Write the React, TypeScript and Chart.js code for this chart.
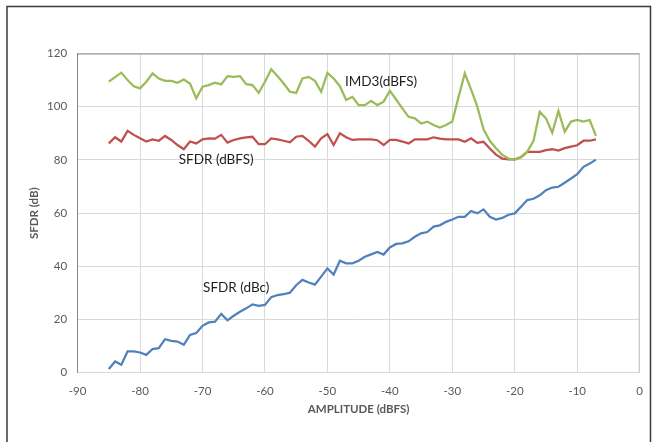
import React, { useEffect, useRef } from "react";
import { Chart, registerables } from "chart.js";

Chart.register(...registerables);

// Amplitude (dBFS) of each measurement
const amplitude = [
  -85, -84, -83, -82, -81, -80, -79, -78, -77, -76,
  -75, -74, -73, -72, -71, -70, -69, -68, -67, -66,
  -65, -64, -63, -62, -61, -60, -59, -58, -57, -56,
  -55, -54, -53, -52, -51, -50, -49, -48, -47, -46,
  -45, -44, -43, -42, -41, -40, -39, -38, -37, -36,
  -35, -34, -33, -32, -31, -30, -29, -28, -27, -26,
  -25, -24, -23, -22, -21, -20, -19, -18, -17, -16,
  -15, -14, -13, -12, -11, -10, -9, -8, -7,
];

const imd3Dbfs = [
  109.4, 111.1, 112.8, 110.0, 107.7, 106.9, 109.4, 112.5, 110.6, 109.7,
  109.7, 109.0, 110.2, 108.7, 103.1, 107.5, 108.1, 109.0, 108.4, 111.5,
  111.2, 111.5, 108.5, 108.1, 105.2, 109.4, 114.1, 111.5, 108.7, 105.6,
  105.2, 110.6, 111.2, 109.7, 105.6, 112.7, 110.6, 107.7, 102.5, 103.7,
  100.6, 100.6, 102.2, 100.6, 101.9, 106.0, 102.7, 99.4, 96.2, 95.6,
  93.7, 94.4, 93.1, 92.2, 93.1, 94.4, 103.7, 112.5, 106.5, 100.0,
  91.5, 87.2, 84.4, 81.9, 80.5, 80.0, 81.2, 83.1, 87.2, 98.1,
  95.6, 90.2, 98.4, 90.6, 94.4, 95.0, 94.4, 95.0, 89.0,
];

const sfdrDbfs = [
  86.2, 88.5, 86.9, 90.9, 89.4, 88.1, 86.9, 87.7, 87.2, 89.0,
  87.5, 85.6, 84.0, 86.9, 86.2, 87.7, 88.1, 88.0, 89.4, 86.5,
  87.5, 88.1, 88.5, 88.7, 85.9, 85.9, 88.1, 87.7, 87.2, 86.6,
  88.7, 89.0, 87.2, 85.0, 88.1, 89.7, 85.6, 90.0, 88.5, 87.5,
  87.7, 87.7, 87.7, 87.4, 85.6, 87.5, 87.5, 86.9, 86.2, 87.7,
  87.7, 87.7, 88.5, 88.0, 87.7, 87.7, 87.7, 86.8, 88.1, 86.4,
  86.8, 84.3, 82.0, 80.5, 80.2, 80.2, 81.0, 83.0, 83.0, 83.0,
  83.7, 84.0, 83.5, 84.4, 85.0, 85.5, 87.2, 87.2, 87.7,
];

const sfdrDbc = [
  1.4, 4.2, 3.0, 8.0, 8.0, 7.6, 6.7, 8.9, 9.2, 12.6,
  12.0, 11.7, 10.5, 14.2, 14.9, 17.6, 18.9, 19.2, 22.1, 19.7,
  21.4, 22.9, 24.2, 25.7, 25.1, 25.5, 28.4, 29.2, 29.5, 30.1,
  32.9, 34.9, 33.9, 33.1, 36.1, 39.2, 36.9, 42.1, 41.1, 41.1,
  42.1, 43.6, 44.5, 45.4, 44.4, 47.1, 48.4, 48.6, 49.4, 51.1,
  52.4, 52.9, 54.9, 55.4, 56.7, 57.6, 58.6, 58.6, 60.8, 59.9,
  61.4, 58.6, 57.6, 58.2, 59.4, 59.9, 62.4, 64.9, 65.4, 66.7,
  68.6, 69.6, 69.9, 71.4, 73.0, 74.6, 77.4, 78.6, 80.1,
];

const xTicks = [-90, -80, -70, -60, -50, -40, -30, -20, -10, 0];
const yTicks = [0, 20, 40, 60, 80, 100, 120];

const seriesNames = ["IMD3(dBFS)", "SFDR (dBFS)", "SFDR (dBc)"];
const seriesColors = ["#9bbb59", "#c0504d", "#4f81bd"];
const seriesValues = [imd3Dbfs, sfdrDbfs, sfdrDbc];
// where each series name is written, in data units (amplitude, dB)
const labelAnchors = [
  { x: -41.4, y: 109.4 },
  { x: -67.8, y: 80.2 },
  { x: -64.6, y: 31.8 },
];

const xTitle = "AMPLITUDE (dBFS)";
const yTitle = "SFDR (dB)";

const FONT = "Lato, 'Open Sans', 'DejaVu Sans', sans-serif";

const framePlugin = {
  id: "framePlugin",
  beforeDraw(chart: any) {
    const { ctx, width, height } = chart;
    ctx.save();
    ctx.fillStyle = "#ffffff";
    ctx.fillRect(0, 0, width, height);
    ctx.restore();
  },
  afterDatasetsDraw(chart: any) {
    const { ctx, chartArea } = chart;
    ctx.save();
    // plot area top and right border
    ctx.lineWidth = 1;
    ctx.strokeStyle = "#8a8a8a";
    ctx.beginPath();
    ctx.moveTo(chartArea.left, chartArea.top + 0.5);
    ctx.lineTo(chartArea.right, chartArea.top + 0.5);
    ctx.stroke();
    ctx.strokeStyle = "#c4c4c4";
    ctx.beginPath();
    ctx.moveTo(chartArea.right - 0.5, chartArea.top);
    ctx.lineTo(chartArea.right - 0.5, chartArea.bottom);
    ctx.stroke();

    // series labels
    const xs = chart.scales.x;
    const ys = chart.scales.y;
    ctx.fillStyle = "#1e1e1e";
    ctx.font = `13.5px ${FONT}`;
    ctx.textAlign = "center";
    ctx.textBaseline = "middle";
    seriesNames.forEach((name, i) => {
      const a = labelAnchors[i];
      ctx.fillText(name, xs.getPixelForValue(a.x), ys.getPixelForValue(a.y));
    });

    // outer frame
    ctx.strokeStyle = "#3a3a3a";
    ctx.lineWidth = 1.5;
    ctx.beginPath();
    ctx.moveTo(7, 460);
    ctx.lineTo(7, 6.5);
    ctx.lineTo(650.5, 6.5);
    ctx.lineTo(650.5, 460);
    ctx.stroke();
    ctx.restore();
  },
};

export default function App() {
  const canvasRef = useRef<HTMLCanvasElement | null>(null);

  useEffect(() => {
    const canvas = canvasRef.current;
    if (!canvas) return;
    const chart = new Chart(canvas, {
      type: "line",
      data: {
        datasets: seriesNames.map((name, i) => ({
          label: name,
          data: amplitude.map((a, j) => ({ x: a, y: seriesValues[i][j] })),
          borderColor: seriesColors[i],
          backgroundColor: seriesColors[i],
          borderWidth: 2.25,
          pointRadius: 0,
          tension: 0,
          fill: false,
        })),
      },
      options: {
        animation: false,
        responsive: false,
        devicePixelRatio: 1,
        layout: { padding: { left: 7.6, top: 53.5, right: 9.6, bottom: 9.3 } },
        plugins: {
          legend: { display: false },
          tooltip: { enabled: false },
        },
        scales: {
          x: {
            type: "linear",
            min: -90,
            max: 0,
            afterBuildTicks: (s: any) => {
              s.ticks = xTicks.map((v) => ({ value: v }));
            },
            afterFit: (s: any) => {
              s.height = 60;
            },
            grid: { color: "#d9d9d9", lineWidth: 1, drawTicks: false },
            border: { color: "#d9d9d9" },
            ticks: {
              color: "#595959",
              font: { family: FONT, size: 11.5 },
              padding: 12,
              maxRotation: 0,
            },
            title: {
              display: true,
              text: xTitle,
              color: "#595959",
              font: { family: FONT, size: 11.5, weight: "bold" },
              padding: { top: 0, bottom: 17 },
            },
          },
          y: {
            type: "linear",
            min: 0,
            max: 120,
            afterBuildTicks: (s: any) => {
              s.ticks = yTicks.map((v) => ({ value: v }));
            },
            afterFit: (s: any) => {
              s.width = 70;
            },
            grid: { color: "#d9d9d9", lineWidth: 1, drawTicks: false },
            border: { color: "#868686" },
            ticks: {
              color: "#595959",
              font: { family: FONT, size: 11.5 },
              padding: 10.5,
            },
            title: {
              display: true,
              text: yTitle,
              color: "#595959",
              font: { family: FONT, size: 11.5, weight: "bold" },
              padding: { top: 19.5, bottom: 0 },
            },
          },
        },
      },
      plugins: [framePlugin],
    } as any);
    return () => chart.destroy();
  }, []);

  return (
    <div
      style={{
        position: "fixed",
        left: 0,
        top: 0,
        width: 655,
        height: 442,
        background: "#ffffff",
      }}
    >
      <canvas ref={canvasRef} width={655} height={442} style={{ display: "block" }} />
    </div>
  );
}
